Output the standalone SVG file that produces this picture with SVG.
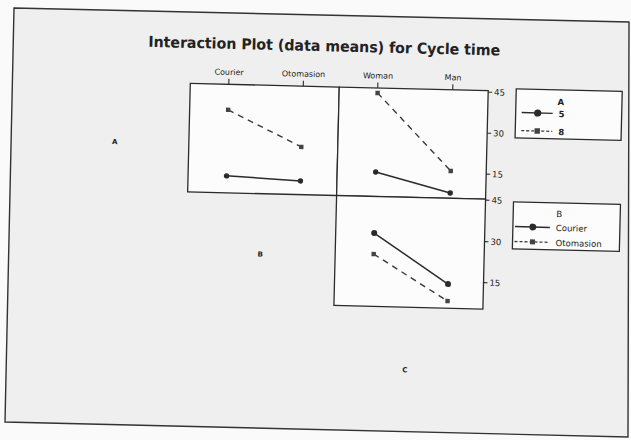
<svg xmlns="http://www.w3.org/2000/svg" width="631" height="440" viewBox="0 0 631 440">
<defs>
<style>
.frame{fill:#fcfcfc;stroke:#2b2b2b;stroke-width:1.3}
.ax{stroke:#2b2b2b;stroke-width:1.1;fill:none}
.solid{stroke:#2b2b2b;stroke-width:1.5;fill:none}
.dash{stroke:#3a3a3a;stroke-width:1.4;fill:none;stroke-dasharray:6 5}
.ldash{stroke:#3a3a3a;stroke-width:1.3;fill:none;stroke-dasharray:3 2}
.dot{fill:#2b2b2b}
.sq{fill:#444}
.t{font-family:"DejaVu Sans","Liberation Sans",sans-serif;fill:#222}
.tick{font-size:8px}
.rtick{font-size:8.5px}
.leg{font-size:8.5px}
.lab{font-size:7px;font-weight:bold}
.title{font-size:15px;font-weight:bold}
</style>
</defs>
<rect x="0" y="0" width="631" height="440" fill="#fafafa"/>
<polygon points="14,8 629,22 628,437 5,422" fill="#efefef" stroke="#333" stroke-width="1.4"/>
<g transform="rotate(1.4 315 220)">
<g id="title"><text class="t title" x="144" y="51" textLength="352" lengthAdjust="spacingAndGlyphs">Interaction Plot (data means) for Cycle time</text></g>
<g id="panel-A-B">
<rect class="frame" x="187" y="86.5" width="149" height="108.5"/>
</g>
<g id="panel-A-C">
<rect class="frame" x="336" y="86.5" width="149" height="108.5"/>
</g>
<g id="panel-B-C">
<rect class="frame" x="336" y="195" width="149" height="110"/>
</g>
<g id="top-axis">
<path class="ax" d="M225.5,86.5V81 M300,86.5V81 M374.5,86.5V81 M449.5,86.5V81"/>
<text class="t tick" x="225.5" y="77" text-anchor="middle">Courier</text>
<text class="t tick" x="300" y="77" text-anchor="middle">Otomasion</text>
<text class="t tick" x="374.5" y="77" text-anchor="middle">Woman</text>
<text class="t tick" x="449.5" y="77" text-anchor="middle">Man</text>
</g>
<g id="right-axis">
<path class="ax" d="M485,88h4 M485,129h4 M485,170h4 M485,196h4 M485,237.5h4 M485,278.5h4"/>
<text class="t rtick" x="491" y="91">45</text>
<text class="t rtick" x="491" y="132">30</text>
<text class="t rtick" x="491" y="173">15</text>
<text class="t rtick" x="491" y="199">45</text>
<text class="t rtick" x="491" y="240.5">30</text>
<text class="t rtick" x="491" y="281.5">15</text>
</g>
<g id="connectors">
<line class="dash" x1="225.5" y1="112" x2="299.5" y2="147.3"/>
<line class="solid" x1="225.5" y1="178" x2="299.5" y2="181.3"/>
<line class="dash" x1="374.5" y1="91.5" x2="449.5" y2="167.7"/>
<line class="solid" x1="374.5" y1="170.5" x2="449.5" y2="189.7"/>
<line class="solid" x1="374.5" y1="231.6" x2="449.5" y2="280.8"/>
<line class="dash" x1="374.5" y1="252.6" x2="449.5" y2="297.8"/>
</g>
<g id="points">
<rect class="sq" x="223.3" y="109.8" width="4.4" height="4.4"/>
<rect class="sq" x="297.3" y="145.1" width="4.4" height="4.4"/>
<circle class="dot" cx="225.5" cy="178" r="2.7"/>
<circle class="dot" cx="299.5" cy="181.3" r="2.7"/>
<rect class="sq" x="372.3" y="89.3" width="4.4" height="4.4"/>
<rect class="sq" x="447.3" y="165.5" width="4.4" height="4.4"/>
<circle class="dot" cx="374.5" cy="170.5" r="2.7"/>
<circle class="dot" cx="449.5" cy="189.7" r="2.7"/>
<circle class="dot" cx="374.5" cy="231.6" r="3"/>
<circle class="dot" cx="449.5" cy="280.8" r="3"/>
<rect class="sq" x="372.3" y="250.4" width="4.4" height="4.4"/>
<rect class="sq" x="447.3" y="295.6" width="4.4" height="4.4"/>
</g>
<g id="legend-A">
<rect class="frame" x="513" y="84" width="106" height="49" fill="#f6f6f6"/>
<text class="t leg" x="558" y="99" text-anchor="middle" font-weight="bold">A</text>
<line class="solid" x1="519" y1="107.6" x2="550" y2="107.6"/>
<circle class="dot" cx="535" cy="107.6" r="3.6"/>
<text class="t leg" x="556" y="111" font-weight="bold">5</text>
<line class="ldash" x1="519" y1="125.6" x2="550" y2="125.6"/>
<rect class="sq" x="532.3" y="122.9" width="5.4" height="5.4"/>
<text class="t leg" x="556" y="129" font-weight="bold">8</text>
</g>
<g id="legend-B">
<rect class="frame" x="513" y="197" width="107" height="47" fill="#f6f6f6"/>
<text class="t leg" x="559" y="211" text-anchor="middle">B</text>
<line class="solid" x1="515" y1="221.7" x2="550" y2="221.7"/>
<circle class="dot" cx="533" cy="221.7" r="3.4"/>
<text class="t leg" x="556" y="225">Courier</text>
<line class="ldash" x1="515" y1="236.6" x2="550" y2="236.6"/>
<rect class="sq" x="530.5" y="234.1" width="5" height="5"/>
<text class="t leg" x="556" y="240">Otomasion</text>
</g>
<g id="label-A"><text class="t lab" x="113" y="149" text-anchor="middle">A</text></g>
<g id="label-B"><text class="t lab" x="261" y="258" text-anchor="middle">B</text></g>
<g id="label-C"><text class="t lab" x="408.6" y="370" text-anchor="middle">C</text></g>
</g>
</svg>
